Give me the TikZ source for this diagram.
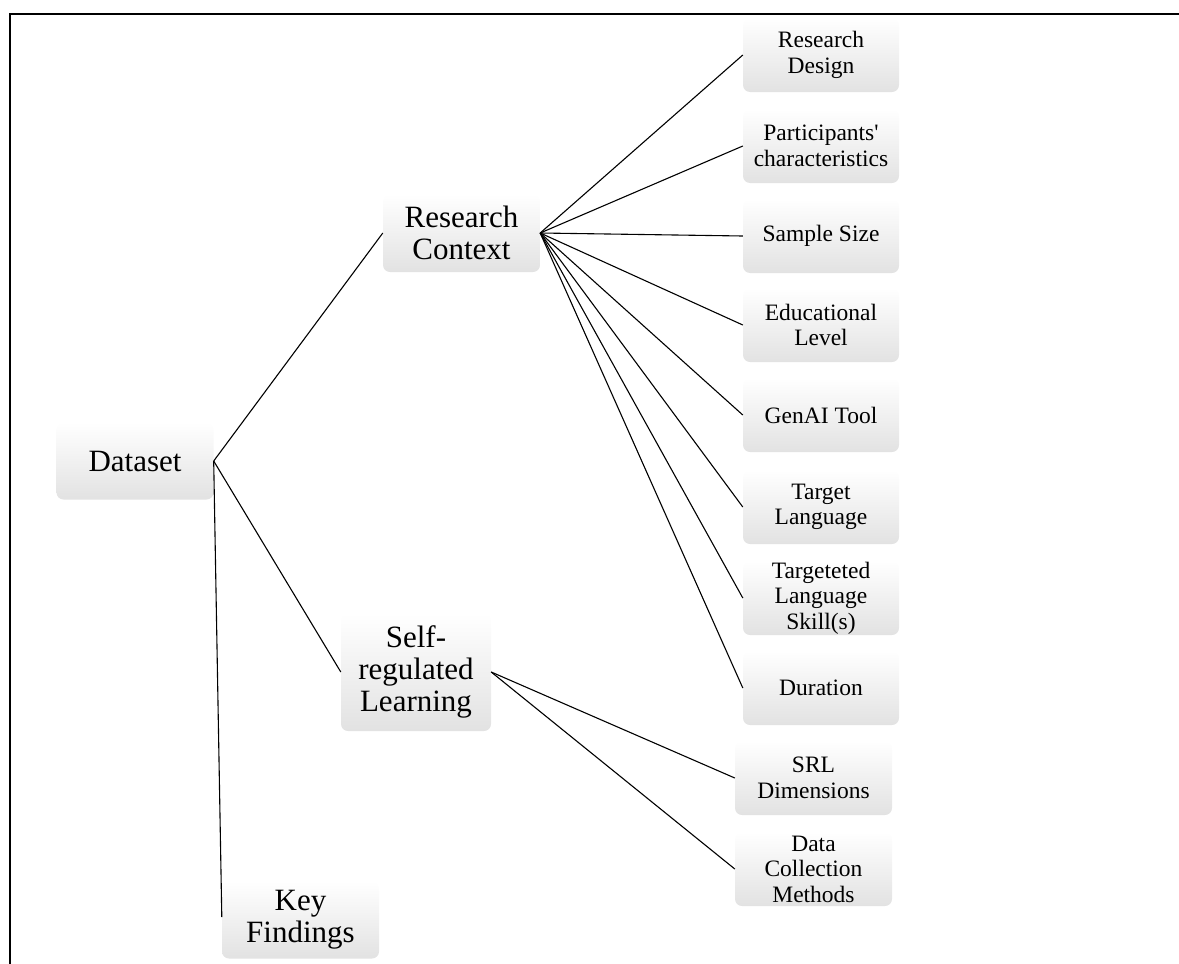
\documentclass[tikz,border=0pt]{standalone}
\usepackage{fontspec}
\setmainfont{Liberation Serif}
\usepackage{xcolor}
\definecolor{boxTop}{HTML}{FFFFFF}
\definecolor{boxMid}{HTML}{FAFAFA}
\definecolor{boxBottom}{HTML}{E2E2E2}
\definecolor{darkText}{HTML}{000000}
\usepackage{tikz}
\usetikzlibrary{
    positioning,
    calc
}
\tikzset{
    % Base style for all boxes
    box base/.style={
        rectangle,
        rounded corners=7pt,
        align=center,
        text=darkText,
        inner sep=0pt,
        top color=boxTop,
        middle color=boxMid,
        bottom color=boxBottom,
    },
    % First and second level topics - large text
    topic/.style={
        box base,
        font=\fontsize{31}{32}\selectfont,
        minimum width=157pt,
        minimum height=77pt,
    },
    % Leaf items - smaller text
    leaf/.style={
        box base,
        font=\fontsize{23.5}{25.5}\selectfont,
        minimum width=156pt,
        minimum height=74pt,
    },
    % Plain connecting line
    branch/.style={
        draw=black,
        line width=1.1pt,
    },
    % Frame lines on top and left
    frame/.style={
        draw=black,
        line width=2pt,
    },
}

\begin{document}
\begin{tikzpicture}[x=1pt, y=-1pt]
    \useasboundingbox (0,0) rectangle (1179,964);
    \draw [frame] (1179,14) -- (10,14) -- (10,964);

    \node (dataset) [topic] at (135,461) {Dataset};
    \node (context) [topic, minimum height=78pt] at (461.5,233) {Research\\Context};
    \node (srl) [topic, minimum width=150pt, minimum height=118pt] at (416,672) {Self-\\regulated\\Learning};
    \node (findings) [topic] at (300.5,920) {Key\\Findings};

    \node (design) [leaf] at (821,55) {Research\\Design};
    \node (participants) [leaf] at (821,146) {Participants\textquotesingle\\characteristics};
    \node (sample) [leaf] at (821,236) {Sample Size};
    \node (level) [leaf] at (821,325) {Educational\\Level};
    \node (tool) [leaf] at (821,415) {GenAI Tool};
    \node (language) [leaf] at (821,507) {Target\\Language};
    \node (skills) [leaf] at (821,598) {Targeteted\\Language\\Skill(s)};
    \node (duration) [leaf] at (821,688) {Duration};

    \node (dimensions) [leaf, minimum width=157pt] at (813.5,778) {SRL\\Dimensions};
    \node (methods) [leaf, minimum width=157pt] at (813.5,869) {Data\\Collection\\Methods};

    \draw [branch] (dataset.east) -- (context.west);
    \draw [branch] (dataset.east) -- (srl.west);
    \draw [branch] (dataset.east) -- ($(findings.west)+(0,-3)$);

    \draw [branch] (context.east) -- (design.west);
    \draw [branch] (context.east) -- (participants.west);
    \draw [branch] (context.east) -- (sample.west);
    \draw [branch] (context.east) -- (level.west);
    \draw [branch] (context.east) -- (tool.west);
    \draw [branch] (context.east) -- (language.west);
    \draw [branch] (context.east) -- (skills.west);
    \draw [branch] (context.east) -- (duration.west);

    \draw [branch] (srl.east) -- (dimensions.west);
    \draw [branch] (srl.east) -- (methods.west);
\end{tikzpicture}
\end{document}
